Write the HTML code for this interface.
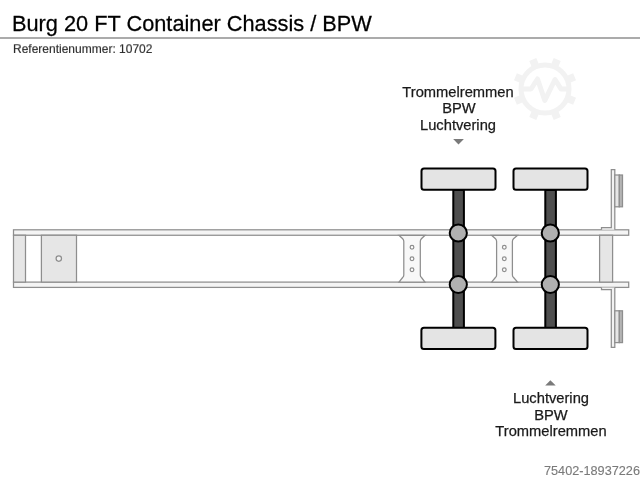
<!DOCTYPE html>
<html><head><meta charset="utf-8">
<style>
html,body{margin:0;padding:0;background:#fff;}
body{width:640px;height:480px;overflow:hidden;position:relative;font-family:"Liberation Sans",sans-serif;color:#111;}
.t{position:absolute;white-space:nowrap;line-height:1;}
.ln{position:absolute;white-space:nowrap;line-height:1;transform-origin:50% 84.65%;will-change:transform;-webkit-text-stroke:0.25px currentColor;}
.c{width:200px;text-align:center;font-size:14.7px;color:#1a1a1a;}
svg{position:absolute;left:0;top:0;}
</style></head>
<body>
<svg width="640" height="480" viewBox="0 0 640 480">
  <!-- watermark gear -->
  <g fill="none" stroke="#f2f2f2" stroke-width="5">
    <circle cx="545" cy="89" r="24"/>
    <polyline points="521,89 531,89 537.5,79 544.8,100.5 555,79.5 561,89 569,89" stroke-linejoin="round"/>
  </g>
  <g fill="#f2f2f2" transform="translate(545 89)">
    <rect x="-3.8" y="-32" width="7.6" height="9" transform="rotate(22.5)"/>
    <rect x="-3.8" y="-32" width="7.6" height="9" transform="rotate(67.5)"/>
    <rect x="-3.8" y="-32" width="7.6" height="9" transform="rotate(112.5)"/>
    <rect x="-3.8" y="-32" width="7.6" height="9" transform="rotate(157.5)"/>
    <rect x="-3.8" y="-32" width="7.6" height="9" transform="rotate(202.5)"/>
    <rect x="-3.8" y="-32" width="7.6" height="9" transform="rotate(247.5)"/>
    <rect x="-3.8" y="-32" width="7.6" height="9" transform="rotate(292.5)"/>
    <rect x="-3.8" y="-32" width="7.6" height="9" transform="rotate(337.5)"/>
  </g>
  <line x1="0" y1="38" x2="640" y2="38" stroke="#8f8f8f" stroke-width="1.4"/>
  <!-- rails -->
  <g stroke="#8e8e8e" stroke-width="1.25">
    <rect x="13.5" y="229.8" width="615.2" height="5.45" fill="#f4f4f4"/>
    <rect x="13.5" y="282.1" width="615.2" height="5.3" fill="#f4f4f4"/>
    <!-- rear -->
    <rect x="13.5" y="235.25" width="12" height="46.85" fill="#e6e6e6"/>
    <rect x="41.4" y="235.25" width="35.1" height="46.85" fill="#e6e6e6"/>
    <circle cx="58.8" cy="258.6" r="2.7" fill="#f2f2f2"/>
    <!-- cross members -->
    <path d="M399 235.25 L425 235.25 L421.40000000000003 238.8 Q420.3 239.9 420.3 241.45 L420.3 274.90000000000003 Q420.3 276.5 421.5 277.5 L425 282.1 L399 282.1 L402.6 277.5 Q403.8 276.5 403.8 274.90000000000003 L403.8 241.45 Q403.8 239.9 402.7 238.8 Z" fill="#f8f8f8"/>
    <path d="M491.6 235.25 L517.6 235.25 L513.5 238.8 Q512.4 239.9 512.4 241.45 L512.4 274.90000000000003 Q512.4 276.5 513.6 277.5 L517.6 282.1 L491.6 282.1 L495.40000000000003 277.5 Q496.6 276.5 496.6 274.90000000000003 L496.6 241.45 Q496.6 239.9 495.5 238.8 Z" fill="#f8f8f8"/>
    <circle cx="412" cy="247.3" r="1.85" fill="#fff"/>
    <circle cx="412" cy="258.7" r="1.85" fill="#fff"/>
    <circle cx="412" cy="269.8" r="1.85" fill="#fff"/>
    <circle cx="504.3" cy="247.3" r="1.85" fill="#fff"/>
    <circle cx="504.3" cy="258.7" r="1.85" fill="#fff"/>
    <circle cx="504.3" cy="269.8" r="1.85" fill="#fff"/>
    <!-- front -->
    <rect x="599.6" y="235.25" width="13" height="46.85" fill="#e6e6e6"/>
    <path d="M601.5 229.8 L601.5 227.6 L611.3 227.6 L611.3 169.6 L614.8 169.6 L614.8 229.8" fill="#f2f2f2"/>
    <path d="M601.5 287.4 L601.5 289.6 L611.3 289.6 L611.3 347.4 L614.8 347.4 L614.8 287.4" fill="#f2f2f2"/>
    <rect x="614.8" y="175" width="4.5" height="31.8" fill="#e6e6e6"/>
    <rect x="619.3" y="175" width="3.2" height="31.8" fill="#b4b4b4"/>
    <rect x="614.8" y="310.8" width="4.5" height="31.8" fill="#e6e6e6"/>
    <rect x="619.3" y="310.8" width="3.2" height="31.8" fill="#b4b4b4"/>
  </g>
  <!-- axles -->
  <g stroke="#000" stroke-width="2">
    <rect x="453.3" y="190" width="10.6" height="138" fill="#4f4f4f"/>
    <rect x="545.3" y="190" width="10.6" height="138" fill="#4f4f4f"/>
    <rect x="421.5" y="168.4" width="74" height="21.3" rx="2.5" fill="#e4e4e4"/>
    <rect x="513.5" y="168.4" width="74" height="21.3" rx="2.5" fill="#e4e4e4"/>
    <rect x="421.4" y="327.7" width="74" height="21.3" rx="2.5" fill="#e4e4e4"/>
    <rect x="513.5" y="327.7" width="74" height="21.3" rx="2.5" fill="#e4e4e4"/>
    <circle cx="458.3" cy="233" r="8.6" fill="#b0b0b0"/>
    <circle cx="458.3" cy="284.5" r="8.6" fill="#b0b0b0"/>
    <circle cx="550.3" cy="233" r="8.6" fill="#b0b0b0"/>
    <circle cx="550.3" cy="284.5" r="8.6" fill="#b0b0b0"/>
  </g>
  <!-- triangles -->
  <path d="M453.2 139 L463.9 139 L458.5 144.4 Z" fill="#7a7a7a"/>
  <path d="M545.2 385.5 L555.7 385.5 L550.4 380.2 Z" fill="#7a7a7a"/>
</svg>
<div class="ln" style="left:12.4px;top:12.8px;font-size:21.75px;color:#000;transform:scaleY(1.05)">Burg 20 FT Container Chassis / BPW</div>
<div class="ln" style="left:12.9px;top:42.9px;font-size:12px;color:#2a2a2a;transform:scaleY(0.97);-webkit-text-stroke:0.15px currentColor">Referentienummer: 10702</div>
<div class="ln c" style="left:357.9px;top:84.5px">Trommelremmen</div>
<div class="ln c" style="left:358.5px;top:101.2px">BPW</div>
<div class="ln c" style="left:358.25px;top:117.9px">Luchtvering</div>
<div class="ln c" style="left:450.65px;top:390.7px">Luchtvering</div>
<div class="ln c" style="left:450.65px;top:407.7px">BPW</div>
<div class="ln c" style="left:450.65px;top:423.7px">Trommelremmen</div>
<div class="ln" style="left:543.5px;top:465.4px;font-size:12.7px;color:#7a7a7a;transform:scaleY(1.02);-webkit-text-stroke:0.12px currentColor">75402-18937226</div>
</body></html>
